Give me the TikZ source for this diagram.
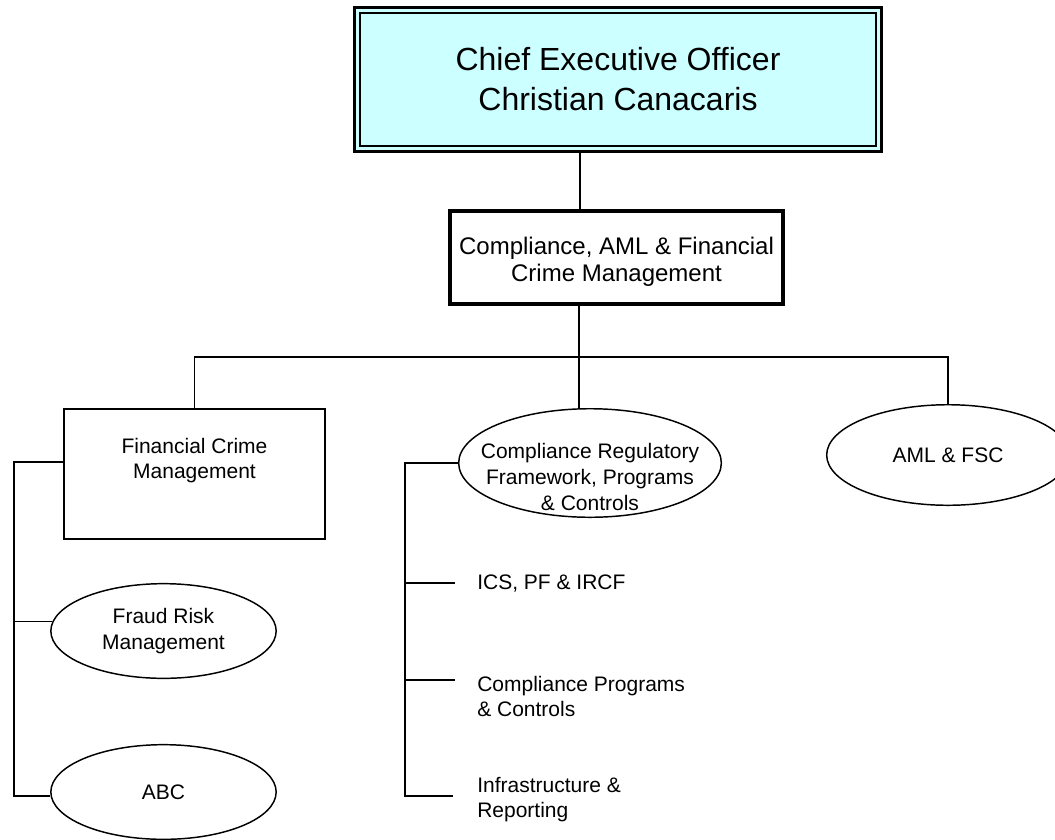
\documentclass[tikz,border=0pt]{standalone}
\usepackage{fontspec}
\setmainfont{Liberation Sans}
\usetikzlibrary{shapes.geometric}
\usepackage{xcolor}
\definecolor{ceofill}{HTML}{CCFFFF}

\tikzset{
	conn/.style = {line width=1.1pt},
	small/.style = {font=\fontsize{15.75}{19.3}\selectfont, align=center},
	plain/.style = {small, inner sep=0pt},
	oval/.style = {small, draw, ellipse, line width=1.1pt, inner sep=0pt},
	unitbox/.style = {draw, line width=1.5pt, inner sep=0pt},
	ceobox/.style = {draw, fill=ceofill, line width=1.8pt, double=ceofill,
		double distance=2.2pt, align=center, font=\fontsize{24}{30}\selectfont},
	headbox/.style = {draw, line width=3pt, align=center, inner sep=0pt,
		font=\fontsize{18}{20.25}\selectfont}
}

\begin{document}
\begin{tikzpicture} [x=0.75pt, y=-0.75pt]
\useasboundingbox (0,0) rectangle (1055,839);
\clip (0,0) rectangle (1055,839);

% top of the chart:
\node [ceobox, minimum width=391pt, minimum height=104pt] (ceo) at (618,79.5)
	{Chief Executive Officer\\Christian Canacaris};
\node [headbox, minimum width=249.75pt, minimum height=69.75pt] (cafcm) at (616.5,257.5) {};
\node [headbox, draw=none] (cafcm-t) at (616.5,262)
	{Compliance, AML \& Financial\\Crime Management};

% departments:
\node [unitbox, minimum width=195.75pt, minimum height=97.5pt] (fcm) at (194.5,474) {};
\node [plain] (fcm-t) at (194.5,460.5) {Financial Crime\\Management};
\node [oval, minimum width=197pt, minimum height=81.4pt] (crf) at (590,463) {};
\node [plain] (crf-t) at (590,477) {Compliance Regulatory\\Framework, Programs\\\& Controls};
\node [oval, minimum width=182pt, minimum height=75.4pt] (aml) at (948,455) {AML \& FSC};

% units below:
\node [oval, minimum width=169pt, minimum height=71pt] (fraud) at (163.5,631)
	{Fraud Risk\\Management};
\node [oval, minimum width=169pt, minimum height=71pt] (abc) at (163.5,792) {ABC};
\node [plain, anchor=west, align=left] (ics) at (477,583) {ICS, PF \& IRCF};
\node [plain, anchor=west, align=left] (cpc) at (477,696.5)
	{Compliance Programs\\\& Controls};
\node [plain, anchor=west, align=left] (infra) at (477,799.5)
	{Infrastructure \&\\Reporting};

% lines from the top:
\coordinate (drop) at (580,0);
\draw [conn] (ceo.south -| drop) -- (cafcm.north -| drop);
\coordinate (bar) at (579,357);
\draw [conn] (cafcm.south -| bar) -- (bar);
\draw [conn] (fcm.north) |- (bar) -| (aml.north);
\draw [conn] (bar) -- (crf.north -| bar);

% left group:
\coordinate (fspine) at (14,462);
\draw [conn] (fcm.west |- fspine) -- (fspine) |- (abc.182);
\draw [conn] (fspine |- fraud.175) -- (fraud.175);

% middle group:
\coordinate (cspine) at (405,0);
\coordinate (tap1) at (455,583);
\coordinate (tap2) at (455,680);
\coordinate (tap3) at (453,796);
\draw [conn] (crf.west) -- (crf.west -| cspine) |- (tap3);
\draw [conn] (tap1 -| cspine) -- (tap1);
\draw [conn] (tap2 -| cspine) -- (tap2);
\end{tikzpicture}
\end{document}
